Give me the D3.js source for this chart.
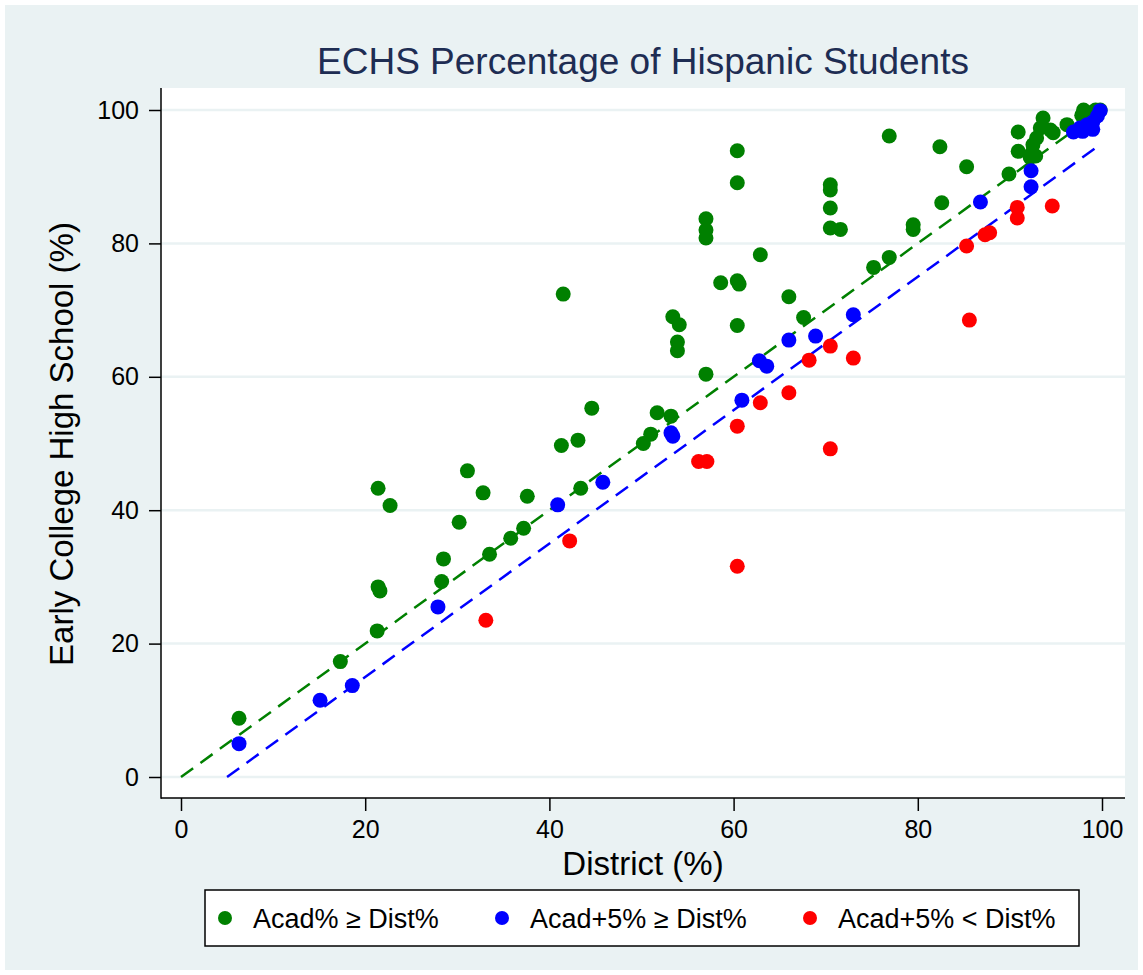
<!DOCTYPE html>
<html>
<head>
<meta charset="utf-8">
<script src="https://cdn.jsdelivr.net/npm/d3@7"></script>
<style>
  body { margin: 0; background: #fff; }
  text { font-family: "Liberation Sans", Arial, Helvetica, sans-serif; }
</style>
</head>
<body>
<div id="chart"></div>
<script>
// points: [district %, ECHS %]
const greenPts = [
  [6.3, 8.8], [17.3, 17.3], [21.3, 21.9], [21.4, 28.5], [21.6, 27.9], [21.4, 43.3], [22.7, 40.7],
  [28.3, 29.3], [28.5, 32.7], [30.2, 38.2], [31.1, 45.9], [32.8, 42.6], [33.5, 33.4], [35.8, 35.8],
  [37.2, 37.3], [37.6, 42.1], [41.3, 49.7], [41.5, 72.4], [43.1, 50.5], [43.4, 43.3], [44.6, 55.3],
  [50.2, 50.0], [51.0, 51.4], [51.7, 54.6], [53.2, 54.1], [53.4, 69.0], [54.1, 67.8], [53.9, 65.2],
  [53.9, 63.9], [57.0, 60.4], [57.0, 83.7], [57.0, 82.0], [57.0, 80.8], [58.6, 74.1], [60.4, 74.4],
  [60.6, 73.9], [60.4, 67.7], [60.4, 93.9], [60.4, 89.1], [62.9, 78.3], [66.0, 72.0], [67.6, 68.9],
  [70.5, 88.8], [70.5, 88.0], [70.5, 85.3], [70.5, 82.3], [71.6, 82.1], [75.2, 76.4], [76.9, 77.9],
  [76.9, 96.1], [79.5, 82.8], [79.5, 82.1], [82.4, 94.5], [82.6, 86.1], [85.3, 91.5], [89.9, 90.4],
  [90.9, 96.7], [90.9, 93.8], [92.2, 92.9], [92.4, 93.6], [92.8, 93.1], [92.5, 94.8], [92.9, 95.8],
  [93.3, 97.3], [93.6, 98.8], [94.4, 97.0], [94.7, 96.6], [96.2, 97.8], [97.8, 99.2], [98.0, 100],
  [98.7, 99.6], [99.3, 100], [99.8, 100]
];
const bluePts = [
  [6.3, 5.0], [15.1, 11.5], [18.6, 13.7], [27.9, 25.5], [40.9, 40.8], [45.8, 44.2], [53.2, 51.6],
  [53.4, 51.1], [60.9, 56.5], [62.8, 62.4], [63.6, 61.6], [66.0, 65.5], [68.9, 66.1], [73.0, 69.3],
  [86.8, 86.2], [92.3, 90.9], [92.3, 88.5], [96.9, 96.7], [97.6, 97.3], [97.9, 96.8], [98.4, 97.8],
  [99.0, 97.1], [99.0, 98.2], [99.5, 99.1], [99.8, 99.9]
];
const redPts = [
  [33.1, 23.5], [42.2, 35.4], [56.2, 47.3], [57.1, 47.3], [60.4, 52.6], [60.4, 31.6], [62.9, 56.1],
  [66.0, 57.6], [68.2, 62.5], [70.5, 64.6], [70.5, 49.2], [73.0, 62.8], [85.3, 79.6], [85.6, 68.5],
  [87.3, 81.3], [87.8, 81.6], [90.8, 85.4], [90.8, 83.8], [94.6, 85.6]
];
// reference lines: Acad = Dist, Acad + 5 = Dist
const equalLine = [[0, 0], [99.6, 99.6]];
const minus5Line = [[5, 0], [99.6, 94.6]];

const ticks = [0, 20, 40, 60, 80, 100];
const legendLabels = ["Acad% \u2265 Dist%", "Acad+5% \u2265 Dist%", "Acad+5% < Dist%"];
const colors = ["#008000", "#0000ff", "#ff0000"];

const W = 1143, H = 975;
const plot = { left: 161, right: 1125, top: 88, bottom: 798 };

const svg = d3.select("#chart").append("svg")
  .attr("width", W).attr("height", H);

svg.append("rect")
  .attr("x", 5).attr("y", 5).attr("width", 1133).attr("height", 965)
  .attr("fill", "#eaf2f3");

svg.append("rect")
  .attr("x", plot.left).attr("y", plot.top)
  .attr("width", plot.right - plot.left).attr("height", plot.bottom - plot.top)
  .attr("fill", "#fff");

const x = d3.scaleLinear().domain([0, 100]).range([181, 1102]);
const y = d3.scaleLinear().domain([0, 100]).range([777, 110]);

// gridlines
svg.append("g").selectAll("line")
  .data(ticks)
  .join("line")
  .attr("x1", plot.left).attr("x2", plot.right)
  .attr("y1", d => y(d)).attr("y2", d => y(d))
  .attr("stroke", "#eaf2f3").attr("stroke-width", 2.5);

// axes
const yAxis = svg.append("g")
  .attr("transform", `translate(${plot.left},0)`)
  .call(d3.axisLeft(y).tickValues(ticks).tickSize(12).tickPadding(10).tickSizeOuter(0));
const xAxis = svg.append("g")
  .attr("transform", `translate(0,${plot.bottom})`)
  .call(d3.axisBottom(x).tickValues(ticks).tickSize(13).tickPadding(9).tickSizeOuter(0));

[xAxis, yAxis].forEach(a => {
  a.select(".domain").remove();
  a.selectAll("line").attr("stroke", "#000").attr("stroke-width", 1.5);
  a.selectAll("text").attr("font-size", 25).attr("fill", "#000")
    .attr("font-family", "Liberation Sans, Arial, sans-serif");
});

svg.append("line")
  .attr("x1", plot.left).attr("x2", plot.left)
  .attr("y1", plot.top).attr("y2", plot.bottom + 0.75)
  .attr("stroke", "#000").attr("stroke-width", 1.5);
svg.append("line")
  .attr("x1", plot.left).attr("x2", plot.right)
  .attr("y1", plot.bottom).attr("y2", plot.bottom)
  .attr("stroke", "#000").attr("stroke-width", 1.5);

// dashed reference lines
const line = d3.line().x(d => x(d[0])).y(d => y(d[1]));
svg.append("path").datum(equalLine).attr("d", line)
  .attr("fill", "none").attr("stroke", colors[0]).attr("stroke-width", 2.5)
  .attr("stroke-dasharray", "15,9");
svg.append("path").datum(minus5Line).attr("d", line)
  .attr("fill", "none").attr("stroke", colors[1]).attr("stroke-width", 2.5)
  .attr("stroke-dasharray", "15,9");

// points
[greenPts, bluePts, redPts].forEach((pts, i) => {
  svg.append("g").selectAll("circle")
    .data(pts)
    .join("circle")
    .attr("cx", d => x(d[0]))
    .attr("cy", d => y(d[1]))
    .attr("r", 7.5)
    .attr("fill", colors[i]);
});

// titles
svg.append("text")
  .attr("x", 643).attr("y", 74)
  .attr("text-anchor", "middle")
  .attr("font-size", 37)
  .attr("fill", "#1e2d53")
  .text("ECHS Percentage of Hispanic Students");

svg.append("text")
  .attr("x", 643).attr("y", 875)
  .attr("text-anchor", "middle")
  .attr("font-size", 33)
  .text("District (%)");

svg.append("text")
  .attr("transform", "translate(73,444) rotate(-90)")
  .attr("text-anchor", "middle")
  .attr("font-size", 33)
  .text("Early College High School (%)");

// legend
svg.append("rect")
  .attr("x", 205).attr("y", 890).attr("width", 874).attr("height", 56)
  .attr("fill", "#fff").attr("stroke", "#000").attr("stroke-width", 1.5);

const legendX = [225, 502, 810];
const legend = svg.append("g").selectAll("g")
  .data(legendLabels)
  .join("g")
  .attr("transform", (d, i) => `translate(${legendX[i]},918)`);
legend.append("circle").attr("r", 7).attr("fill", (d, i) => colors[i]);
legend.append("text")
  .attr("x", 28).attr("y", 9.5)
  .attr("font-size", 27)
  .text(d => d);
</script>
</body>
</html>
